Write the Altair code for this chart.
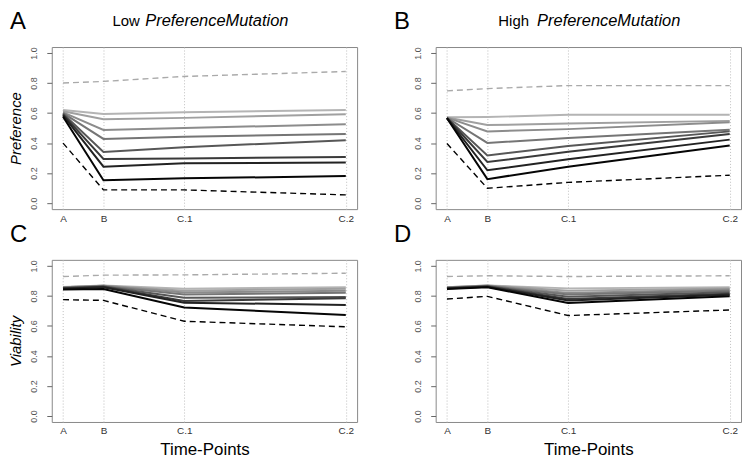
import altair as alt
import pandas as pd

# ---------------- data ----------------
time_labels = ["A", "B", "C.1", "C.2"]
time_pos = [0, 1, 3, 7]
series_ids = [1, 2, 3, 4, 5, 6, 7, 8]
series_colors = ["#b4b4b4", "#a0a0a0", "#8c8c8c", "#757575",
                 "#575757", "#3a3a3a", "#222222", "#050505"]

# Panel A: Preference, low PreferenceMutation
pref_low_solid = [
    [0.620, 0.594, 0.605, 0.620],
    [0.612, 0.559, 0.568, 0.592],
    [0.605, 0.487, 0.500, 0.526],
    [0.600, 0.428, 0.442, 0.460],
    [0.595, 0.340, 0.373, 0.419],
    [0.590, 0.294, 0.298, 0.307],
    [0.585, 0.243, 0.265, 0.270],
    [0.575, 0.153, 0.165, 0.180],
]
pref_low_upper = [0.800, 0.811, 0.844, 0.877]
pref_low_lower = [0.400, 0.088, 0.088, 0.055]

# Panel B: Preference, high PreferenceMutation
pref_high_solid = [
    [0.572, 0.574, 0.588, 0.588],
    [0.571, 0.520, 0.530, 0.548],
    [0.570, 0.478, 0.493, 0.539],
    [0.569, 0.401, 0.434, 0.489],
    [0.568, 0.318, 0.380, 0.478],
    [0.567, 0.274, 0.342, 0.460],
    [0.566, 0.219, 0.292, 0.423],
    [0.565, 0.160, 0.243, 0.384],
]
pref_high_upper = [0.748, 0.763, 0.783, 0.783]
pref_high_lower = [0.397, 0.099, 0.138, 0.186]

# Panel C: Viability, low PreferenceMutation
via_low_solid = [
    [0.860, 0.870, 0.848, 0.858],
    [0.858, 0.868, 0.835, 0.848],
    [0.857, 0.867, 0.822, 0.835],
    [0.855, 0.865, 0.810, 0.821],
    [0.853, 0.863, 0.788, 0.792],
    [0.851, 0.861, 0.766, 0.785],
    [0.848, 0.857, 0.755, 0.740],
    [0.842, 0.846, 0.722, 0.673],
]
via_low_upper = [0.929, 0.938, 0.940, 0.951]
via_low_lower = [0.775, 0.770, 0.631, 0.594]

# Panel D: Viability, high PreferenceMutation
via_high_solid = [
    [0.858, 0.870, 0.850, 0.858],
    [0.857, 0.869, 0.835, 0.850],
    [0.856, 0.868, 0.820, 0.843],
    [0.855, 0.866, 0.810, 0.835],
    [0.853, 0.864, 0.795, 0.825],
    [0.851, 0.862, 0.780, 0.815],
    [0.849, 0.860, 0.770, 0.808],
    [0.846, 0.857, 0.752, 0.797],
]
via_high_upper = [0.929, 0.934, 0.929, 0.934]
via_high_lower = [0.779, 0.797, 0.669, 0.706]

y_ticks = [0.0, 0.2, 0.4, 0.6, 0.8, 1.0]

FONT = "Liberation Sans"
PW, PH = 307, 163

label_expr = " : ".join(
    f"datum.value == {p} ? '{l}'" for p, l in zip(time_pos[:-1], time_labels[:-1])
) + f" : '{time_labels[-1]}'"


def panel(solid, upper, lower, letter, ytitle=None, xtitle=None, head=None):
    srows = []
    for sid, vals in zip(series_ids, solid):
        for t, v in zip(time_pos, vals):
            srows.append({"t": t, "v": v, "series": sid})
    sdf = pd.DataFrame(srows)
    udf = pd.DataFrame({"t": time_pos, "v": upper})
    ldf = pd.DataFrame({"t": time_pos, "v": lower})

    xaxis = alt.Axis(
        values=time_pos, labelExpr=label_expr, grid=True, gridDash=[1, 2],
        gridColor="#bdbdbd", ticks=False, domain=False, labelFontSize=10,
        labelColor="#333333", labelPadding=4, labelFont=FONT,
        titleFontSize=17, titleFontWeight="normal", titleFont=FONT,
        titleColor="#000000", titlePadding=6,
        title=xtitle,
    )
    yaxis = alt.Axis(
        values=y_ticks, format=".1f", grid=False, domain=False, tickSize=5,
        tickColor="#666666", labelColor="#555555", labelFontSize=9,
        labelAngle=270, labelPadding=8, labelFont=FONT,
        titleFontSize=15, titleFontStyle="italic", titleFontWeight="normal",
        titleFont=FONT, titleColor="#000000", titlePadding=6,
        title=ytitle,
    )
    x = alt.X("t:Q", scale=alt.Scale(domain=[-0.28, 7.28], nice=False, zero=False), axis=xaxis)
    y = alt.Y("v:Q", scale=alt.Scale(domain=[-0.04, 1.04], nice=False, zero=False), axis=yaxis)

    solid_layer = alt.Chart(sdf).mark_line(strokeWidth=2).encode(
        x=x, y=y,
        color=alt.Color("series:O", scale=alt.Scale(domain=series_ids, range=series_colors), legend=None),
    )
    upper_layer = alt.Chart(udf).mark_line(strokeWidth=1.4, strokeDash=[6, 4], color="#aaaaaa").encode(x=x, y=y)
    lower_layer = alt.Chart(ldf).mark_line(strokeWidth=1.4, strokeDash=[6, 4], color="#000000").encode(x=x, y=y)
    one = pd.DataFrame({"k": [0]})
    letter_layer = alt.Chart(one).mark_text(
        text=letter, fontSize=24, font=FONT, align="left", baseline="alphabetic", color="#000000"
    ).encode(x=alt.value(-42), y=alt.value(-18))
    layers = [solid_layer, upper_layer, lower_layer, letter_layer]
    if head is not None:
        word, xw, xi = head
        layers.append(alt.Chart(one).mark_text(
            text=word, fontSize=15, font=FONT, align="left", baseline="alphabetic", color="#000000"
        ).encode(x=alt.value(xw), y=alt.value(-21)))
        layers.append(alt.Chart(one).mark_text(
            text="PreferenceMutation", fontSize=16.5, font=FONT, fontStyle="italic",
            align="left", baseline="alphabetic", color="#000000"
        ).encode(x=alt.value(xi), y=alt.value(-21)))
    return alt.layer(*layers).properties(width=PW, height=PH)


pA = panel(pref_low_solid, pref_low_upper, pref_low_lower, "A", ytitle="Preference", xtitle=None, head=("Low", 61, 94))
pB = panel(pref_high_solid, pref_high_upper, pref_high_lower, "B", ytitle=None, xtitle=None, head=("High", 63, 102))
pC = panel(via_low_solid, via_low_upper, via_low_lower, "C", ytitle="Viability", xtitle="Time-Points")
pD = panel(via_high_solid, via_high_upper, via_high_lower, "D", ytitle=None, xtitle="Time-Points")

chart = alt.concat(
    pA, pB, pC, pD, columns=2, spacing={"row": 51, "column": 79}, bounds="flush"
).properties(padding=0).configure_view(stroke="#888888", strokeWidth=1)

chart.save("out.html", embed_options={"renderer": "svg", "actions": False})
